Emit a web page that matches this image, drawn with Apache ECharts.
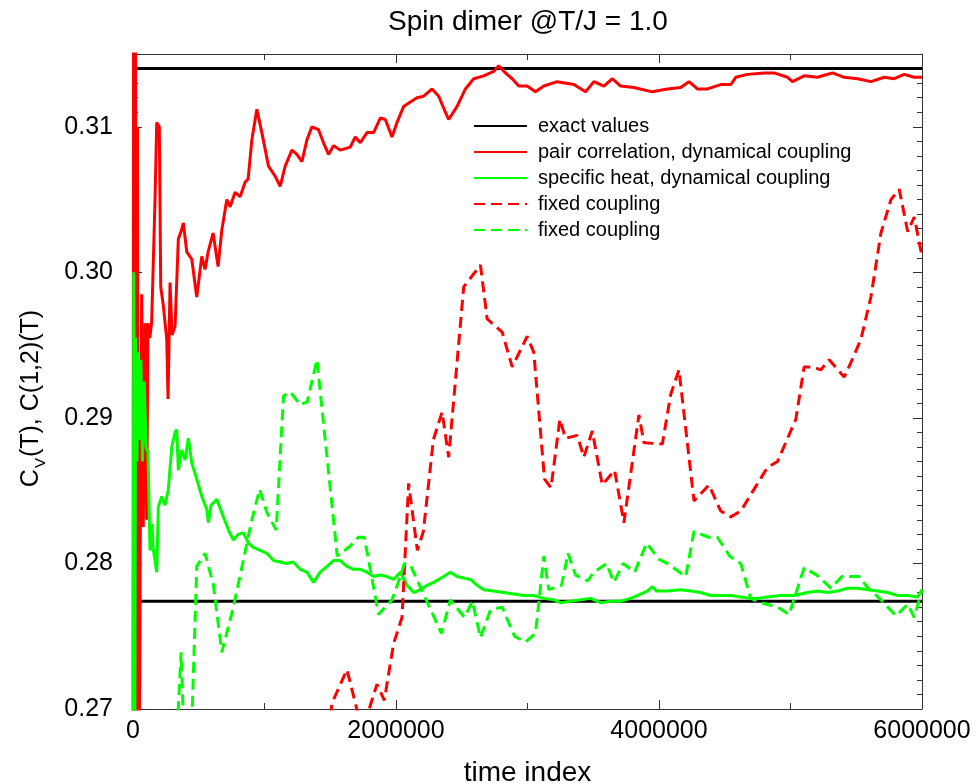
<!DOCTYPE html>
<html>
<head>
<meta charset="utf-8">
<title>Spin dimer</title>
<script src="https://cdn.jsdelivr.net/npm/echarts@6/dist/echarts.min.js"></script>
<style>
html, body { margin: 0; padding: 0; background: #fff; }
#canvasContainer { width: 979px; height: 784px; }
</style>
</head>
<body>
<div id="canvasContainer"></div>
<script>
// exact values (upper: pair correlation, lower: specific heat)
var exactValues = [0.3140, 0.2774];
var timeRange = [0, 6000000];

// pair correlation, dynamical coupling  [time index, value]
var pairDyn = [
    [0,0.26],[5000,0.33],[11000,0.303],[18000,0.33],[26000,0.25],[34000,0.31],[42000,0.25],
    [56000,0.284],[66000,0.2985],[78000,0.2825],[92000,0.2965],[104000,0.2830],[114000,0.2965],
    [128000,0.2955],[142000,0.2966],[167500,0.3050],[180500,0.3103],[200200,0.3100],[210900,0.2990],
    [230700,0.2977],[256600,0.2954],[266500,0.2913],[281700,0.2993],[297000,0.2957],[319800,0.2963],
    [344900,0.3023],[365500,0.3028],[383000,0.3034],[408900,0.3014],[446900,0.3009],[485000,0.2983],
    [523100,0.3011],[548200,0.3002],[571100,0.3014],[609100,0.3027],[647200,0.3004],[675400,0.3029],
    [713400,0.3050],[738600,0.3045],[776600,0.3055],[814700,0.3052],[852800,0.3062],[875600,0.3064],
    [903800,0.3091],[941900,0.3112],[979900,0.3096],[1030200,0.3073],[1081200,0.3066],[1119300,0.3059],
    [1157300,0.3073],[1208300,0.3084],[1246400,0.3081],[1284500,0.3076],[1322600,0.3091],[1360600,0.3100],
    [1410900,0.3098],[1448900,0.3089],[1487000,0.3081],[1525100,0.3087],[1576100,0.3084],[1652200,0.3086],
    [1690300,0.3093],[1728400,0.3089],[1779400,0.3096],[1829600,0.3096],[1880700,0.3106],[1918700,0.3105],
    [1969700,0.3093],[2007800,0.3103],[2058100,0.3114],[2109100,0.3117],[2160100,0.3120],[2210300,0.3121],
    [2274300,0.3126],[2324600,0.3121],[2375600,0.3110],[2400700,0.3105],[2464700,0.3114],[2527800,0.3126],
    [2591000,0.3133],[2667200,0.3135],[2743300,0.3138],[2781400,0.3142],[2832400,0.3137],[2883400,0.3133],
    [2933700,0.3128],[2997600,0.3128],[3060800,0.3124],[3124000,0.3128],[3226100,0.3131],[3352400,0.3129],
    [3441500,0.3124],[3504700,0.3131],[3580900,0.3128],[3644800,0.3133],[3708000,0.3128],[3809300,0.3127],
    [3949400,0.3124],[4063600,0.3126],[4164900,0.3127],[4228100,0.3131],[4292000,0.3126],[4368200,0.3126],
    [4469400,0.3129],[4545600,0.3129],[4583600,0.3134],[4672700,0.3136],[4799100,0.3137],[4875200,0.3137],
    [4977300,0.3134],[5015300,0.3131],[5103700,0.3135],[5205700,0.3134],[5319900,0.3137],[5408200,0.3134],
    [5510300,0.3133],[5611500,0.3131],[5712800,0.3134],[5788900,0.3133],[5865100,0.3136],[5941200,0.3134],
    [6000000,0.3134]
];

// specific heat, dynamical coupling
var heatDyn = [
    [0,0.26],[6000,0.300],[13000,0.262],[20000,0.2955],[30000,0.287],[40000,0.2945],[50000,0.2885],
    [60000,0.294],[72000,0.287],[85000,0.2925],[100000,0.2880],[114200,0.2876],[129400,0.2809],
    [144700,0.2827],[152300,0.2811],[180500,0.2794],[192600,0.2839],[218500,0.2846],[243600,0.2840],
    [268800,0.2851],[294700,0.2880],[319800,0.2890],[332700,0.2892],[344900,0.2864],[370800,0.2878],
    [395900,0.2871],[421100,0.2886],[446900,0.2869],[485000,0.2858],[523100,0.2846],[561200,0.2837],
    [573300,0.2828],[593900,0.2840],[637300,0.2844],[687500,0.2832],[725600,0.2823],[763700,0.2816],
    [799500,0.2820],[839800,0.2821],[877900,0.2814],[916000,0.2811],[967000,0.2809],[1018000,0.2807],
    [1068200,0.2802],[1119300,0.2801],[1170300,0.2800],[1218200,0.2801],[1271500,0.2796],[1322600,0.2794],
    [1372800,0.2787],[1423800,0.2794],[1474800,0.2798],[1525100,0.2802],[1576100,0.2802],[1627100,0.2798],
    [1677400,0.2796],[1728400,0.2796],[1779400,0.2794],[1829600,0.2791],[1880700,0.2792],[1931700,0.2791],
    [1981900,0.2789],[2032900,0.2794],[2084000,0.2785],[2134200,0.2780],[2185200,0.2782],[2236200,0.2785],
    [2286500,0.2787],[2362600,0.2791],[2413600,0.2794],[2464700,0.2791],[2514900,0.2790],[2565900,0.2789],
    [2616900,0.2785],[2667200,0.2782],[2743300,0.2781],[2819500,0.2780],[2895600,0.2779],[2971800,0.2778],
    [3047900,0.2778],[3124000,0.2776],[3200200,0.2775],[3251200,0.2773],[3327300,0.2774],[3403500,0.2775],
    [3479600,0.2776],[3555700,0.2773],[3631900,0.2774],[3708000,0.2774],[3784200,0.2776],[3860300,0.2779],
    [3911300,0.2781],[3949400,0.2784],[3982100,0.2781],[4063600,0.2781],[4164900,0.2782],[4241000,0.2781],
    [4317100,0.2780],[4393300,0.2778],[4469400,0.2778],[4545600,0.2778],[4621700,0.2777],[4697800,0.2776],
    [4748900,0.2776],[4825000,0.2777],[4926300,0.2778],[5027600,0.2778],[5129600,0.2780],[5205700,0.2781],
    [5281800,0.2780],[5358000,0.2781],[5434100,0.2783],[5510300,0.2783],[5586400,0.2782],[5662500,0.2781],
    [5738600,0.2780],[5814800,0.2778],[5891000,0.2778],[5967100,0.2777],[6000000,0.2782]
];

// pair correlation, fixed coupling
var pairFixed = [
    [0,0.240],[700000,0.255],[1470000,0.2670],[1512900,0.2704],[1627100,0.2727],[1743600,0.2685],
    [1855500,0.2717],[1911100,0.2706],[1981900,0.2745],[2045900,0.2763],[2096100,0.2855],[2162400,0.2809],
    [2208100,0.2822],[2284200,0.2885],[2350500,0.2904],[2400700,0.2873],[2514900,0.2990],[2642100,0.3005],
    [2693100,0.2968],[2807300,0.2959],[2883400,0.2935],[2997600,0.2956],[3047900,0.2945],[3129400,0.2858],
    [3178900,0.2852],[3245900,0.2899],[3289200,0.2886],[3378300,0.2888],[3428600,0.2873],[3492500,0.2891],
    [3568700,0.2854],[3606800,0.2858],[3662300,0.2864],[3733200,0.2828],[3847400,0.2902],[3885400,0.2883],
    [4025500,0.2882],[4088700,0.2916],[4151900,0.2933],[4266100,0.2843],[4380300,0.2854],[4469400,0.2836],
    [4545600,0.2832],[4621700,0.2836],[4825000,0.2866],[4901100,0.2870],[5040500,0.2899],[5103700,0.2935],
    [5167700,0.2935],[5230900,0.2933],[5294100,0.2940],[5408200,0.2928],[5459200,0.2938],[5535400,0.2954],
    [5611500,0.2983],[5687700,0.3027],[5763800,0.3050],[5827100,0.3057],[5891000,0.3028],[5941200,0.3038],
    [6000000,0.3011]
];

// specific heat, fixed coupling
var heatFixed = [
    [0,0.255],[319800,0.2655],[365500,0.2739],[399700,0.2650],[426400,0.2630],[485000,0.2798],
    [548200,0.2807],[611400,0.2785],[675400,0.2739],[763700,0.2770],[903800,0.2830],[963200,0.2851],
    [1018000,0.2835],[1088800,0.2823],[1144400,0.2915],[1195400,0.2918],[1271500,0.2909],[1324800,0.2911],
    [1398700,0.2940],[1553300,0.2805],[1652200,0.2812],[1713200,0.2818],[1758800,0.2818],[1867700,0.2765],
    [1969700,0.2775],[2032900,0.2791],[2063400,0.2800],[2109100,0.2799],[2345100,0.2752],[2413600,0.2775],
    [2520200,0.2763],[2581100,0.2774],[2642100,0.2749],[2718200,0.2768],[2807300,0.2770],[2900900,0.2750],
    [2984700,0.2746],[3060800,0.2752],[3124000,0.2805],[3162100,0.2782],[3258800,0.2785],[3308300,0.2807],
    [3365400,0.2792],[3456800,0.2788],[3504700,0.2794],[3601400,0.2800],[3657000,0.2787],[3727000,0.2800],
    [3814600,0.2794],[3906000,0.2814],[3997400,0.2803],[4063600,0.2800],[4202900,0.2791],[4266100,0.2822],
    [4378100,0.2818],[4444300,0.2818],[4538000,0.2805],[4621700,0.2800],[4697800,0.2776],[4774000,0.2773],
    [4901100,0.2770],[4989400,0.2765],[5103700,0.2797],[5200400,0.2792],[5307000,0.2783],[5390700,0.2791],
    [5522500,0.2791],[5581100,0.2784],[5687700,0.2775],[5801900,0.2764],[5891000,0.2772],[5941200,0.2763],
    [6000000,0.2782]
];

var legendText = {
    'exact values': 'exact values',
    'pair correlation, dynamical coupling': 'pair correlation, dynamical coupling',
    'specific heat, dynamical coupling': 'specific heat, dynamical coupling',
    'pairFixed': 'fixed coupling',
    'heatFixed': 'fixed coupling'
};

var font = 'Liberation Sans, Arial, Helvetica, sans-serif';
var frame = '#333';

var chart = echarts.init(document.getElementById('canvasContainer'));

function line(name, data, color, dashed) {
    return {
        name: name,
        type: 'line',
        data: data,
        symbol: 'none',
        clip: true,
        animation: false,
        lineStyle: { color: color, width: 3, type: dashed ? [11, 6] : 'solid' },
        itemStyle: { color: color }
    };
}

function xAxis(pos, labels) {
    return {
        type: 'value', position: pos, min: timeRange[0], max: timeRange[1], interval: 2000000,
        axisLine: { show: true, onZero: false, lineStyle: { color: frame, width: 1 } },
        axisTick: { show: true, inside: true, length: 9, lineStyle: { color: frame } },
        minorTick: { show: true, splitNumber: 2, length: 6, lineStyle: { color: frame } },
        splitLine: { show: false },
        axisLabel: {
            show: labels, margin: 10, color: '#000', fontSize: 25, fontFamily: font,
            formatter: function (v) { return String(v); }
        },
        name: labels ? 'time index' : '', nameLocation: 'middle', nameGap: 50,
        nameTextStyle: { color: '#000', fontSize: 28, fontFamily: font }
    };
}

function yAxis(pos, labels) {
    return {
        type: 'value', position: pos, min: 0.27, max: 0.315, interval: 0.01,
        axisLine: { show: true, onZero: false, lineStyle: { color: frame, width: 1 } },
        axisTick: { show: true, inside: true, length: 9, lineStyle: { color: frame } },
        minorTick: { show: true, splitNumber: 10, length: 5, lineStyle: { color: frame } },
        splitLine: { show: false },
        axisLabel: {
            show: labels, margin: 20, color: '#000', fontSize: 25, fontFamily: font,
            showMaxLabel: false,
            formatter: function (v) { return v.toFixed(2); }
        },
        name: labels ? '{n|C}{s|V}{n|(T), C(1,2)(T)}' : '', nameLocation: 'middle', nameGap: 89,
        nameTextStyle: {
            color: '#000', fontFamily: font, padding: [0, 34, 0, 0],
            rich: {
                n: { fontSize: 25, lineHeight: 30, fontFamily: font, color: '#000', verticalAlign: 'bottom' },
                s: { fontSize: 15, lineHeight: 30, fontFamily: font, color: '#000', verticalAlign: 'bottom', padding: [0, 1, -4, 1] }
            }
        }
    };
}

var option = {
    backgroundColor: '#fff',
    animation: false,
    title: {
        text: 'Spin dimer @T/J = 1.0',
        left: 528, top: 8, textAlign: 'center', padding: 0,
        textStyle: { fontSize: 28, fontWeight: 'normal', color: '#000', fontFamily: font }
    },
    legend: {
        orient: 'vertical', left: 473, top: 116, padding: 0,
        itemWidth: 53, itemHeight: 20, itemGap: 6,
        itemStyle: { opacity: 0 },
        textStyle: { fontSize: 20, lineHeight: 20, color: '#000', fontFamily: font, padding: [0, 0, 0, 6] },
        data: ['exact values', 'pair correlation, dynamical coupling', 'specific heat, dynamical coupling', 'pairFixed', 'heatFixed'],
        formatter: function (name) { return legendText[name] || name; }
    },
    // fixed plot box, do not let v6 shrink it to fit the axis name
    grid: { left: 133, right: 57, top: 54, bottom: 75, containLabel: false, outerBoundsMode: 'none' },
    xAxis: [xAxis('bottom', true), xAxis('top', false)],
    yAxis: [yAxis('left', true), yAxis('right', false)],
    series: [
        line('exact values', [[timeRange[0], exactValues[0]], [timeRange[1], exactValues[0]]], '#000', false),
        line('exact values', [[timeRange[0], exactValues[1]], [timeRange[1], exactValues[1]]], '#000', false),
        line('pair correlation, dynamical coupling', pairDyn, '#ff0000', false),
        line('specific heat, dynamical coupling', heatDyn, '#00ff00', false),
        line('pairFixed', pairFixed, '#ff0000', true),
        line('heatFixed', heatFixed, '#00ff00', true)
    ]
};

chart.setOption(option);
</script>
</body>
</html>
